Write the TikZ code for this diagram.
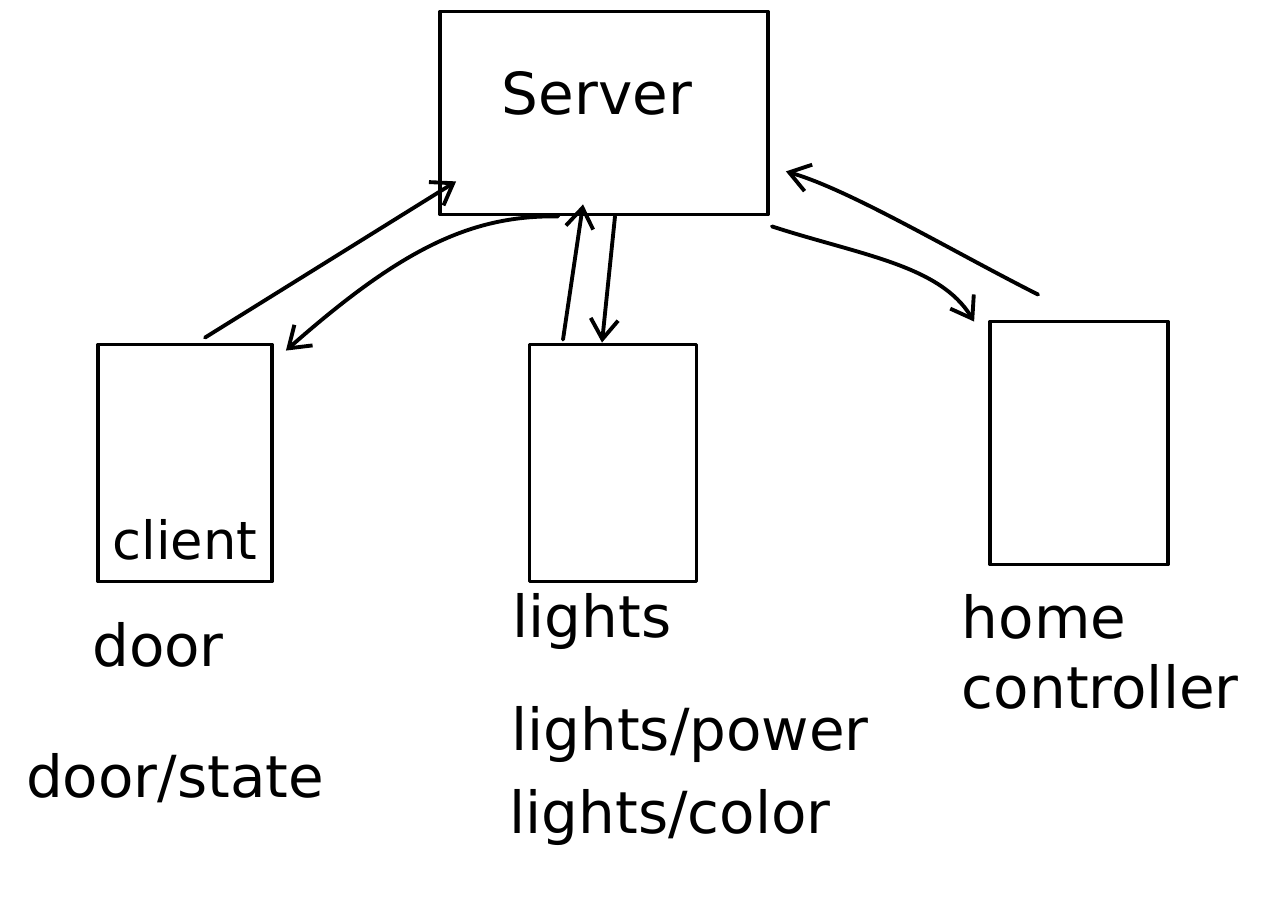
\documentclass[tikz,border=0pt]{standalone}
\usepackage{fontspec}
\setmainfont{DejaVu Sans}
\usetikzlibrary{arrows.meta,calc}
\begin{document}
\begin{tikzpicture}[x=0.02cm,y=-0.02cm,
  line width=2.2pt, line cap=round, line join=round,
  box/.style={draw, minimum width=#1, inner sep=0pt},
  lbl/.style={font=\fontsize{33}{40}\selectfont, inner sep=0pt},
  arr/.style={-{Straight Barb[length=0.4cm,width=0.55cm,line width=2.2pt]}}]
\useasboundingbox (0,0) rectangle (1261,901);
% boxes
\node[box=6.56cm, minimum height=4.06cm] (server) at (604,113) {};
\node[box=3.48cm, minimum height=4.74cm] (door) at (185,463) {};
\node[box=3.34cm, minimum height=4.74cm] (lights) at (613,463) {};
\node[box=3.56cm, minimum height=4.86cm] (home) at (1079,443) {};
% texts
\node[lbl] (tserver) at (597,93) {Server};
\node[lbl, font=\fontsize{30}{36}\selectfont] (tclient) at (185,540) {client};
\node[lbl] (tdoor) at (158,645) {door};
\node[lbl] (tlights) at (592,622) {lights};
\node[lbl, align=left, anchor=west] (thome) at (960,652) {home\\controller};
\node[lbl] (tdoorstate) at (175,778) {door/state};
\node[lbl] (tpower) at (690,735) {lights/power};
\node[lbl] (tcolor) at (670,818) {lights/color};
% connectors
\coordinate (dA) at ($(door.north)+(20,-5)$);
\coordinate (sA) at ($(server.south west)+(18,-35)$);
\draw[arr] (dA) -- (sA);
\coordinate (sB) at ($(server.south west)+(120,0)$);
\coordinate (dB) at ($(door.north east)+(12,8)$);
\draw[arr] (sB) .. controls (470,215) and (400,250) .. (dB);
\coordinate (lA) at ($(lights.north)+(-50,-3)$);
\coordinate (sC) at ($(server.south)+(-21,-12)$);
\draw[arr] (lA) -- (sC);
\coordinate (sD) at ($(server.south)+(11,0)$);
\coordinate (lB) at ($(lights.north)+(-11,0)$);
\draw[arr] (sD) -- (lB);
\coordinate (sE) at ($(server.south east)+(2,10)$);
\coordinate (hA) at ($(home.north west)+(-14,2)$);
\draw[arr] (sE) .. controls (860,255) and (940,265) .. (hA);
\coordinate (hB) at ($(home.north west)+(50,-25)$);
\coordinate (sF) at ($(server.south east)+(16,-45)$);
\draw[arr] (hB) .. controls (950,250) and (850,190) .. (sF);
\end{tikzpicture}
\end{document}
